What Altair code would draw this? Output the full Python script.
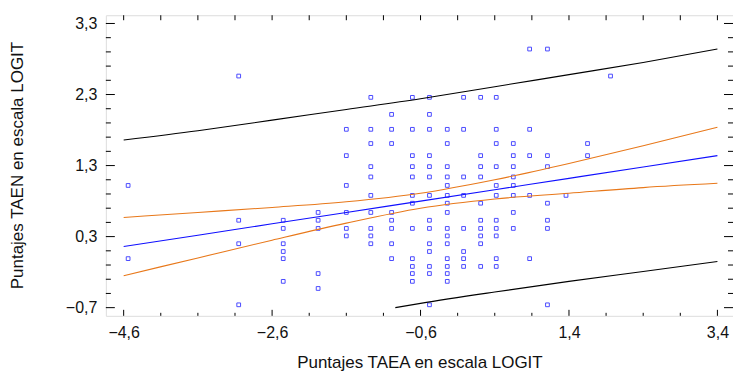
import altair as alt
import pandas as pd

# ---- scatter data (x columns and the y values found in each column) ----
col_x = [-4.54, -3.05, -2.45, -1.98, -1.60, -1.27, -0.99, -0.71, -0.48, -0.24,
         -0.02, 0.21, 0.42, 0.65, 0.87, 1.11, 1.36, 1.65, 1.96]
col_y = [
    [1.02, -0.01],
    [2.56, 0.53, 0.20, -0.66],
    [0.53, 0.415, 0.20, 0.09, -0.01, -0.33],
    [0.64, 0.53, 0.415, -0.22, -0.43],
    [1.81, 1.44, 1.02, 0.64, 0.415, 0.31],
    [2.26, 1.81, 1.61, 1.285, 1.14, 0.88, 0.64, 0.415, 0.31, 0.20],
    [2.02, 1.81, 1.61, 0.64, 0.53, 0.415, 0.20, -0.01],
    [2.26, 1.81, 1.44, 1.285, 1.14, 0.88, 0.77, 0.415, -0.01, -0.12, -0.22, -0.33],
    [2.26, 2.02, 1.81, 1.44, 1.285, 1.14, 0.88, 0.53, 0.415, 0.20, 0.09, -0.12, -0.22, -0.66],
    [1.81, 1.61, 1.285, 1.14, 1.02, 0.88, 0.77, 0.64, 0.415, 0.31, 0.20, -0.01, -0.12, -0.22, -0.33],
    [2.26, 1.81, 1.14, 0.88, 0.415, 0.09, -0.01, -0.12],
    [2.26, 1.44, 1.285, 1.14, 0.77, 0.53, 0.415, 0.31, 0.20, -0.12],
    [2.26, 1.81, 1.61, 1.285, 1.02, 0.88, 0.53, 0.415, 0.31, -0.01, -0.12],
    [1.61, 1.44, 1.285, 1.14, 1.02, 0.88, 0.64, 0.415],
    [2.94, 1.81, 1.44, 0.88, -0.01],
    [2.94, 1.44, 1.285, 0.77, 0.53, 0.415, -0.66],
    [0.88],
    [1.61, 1.44],
    [2.56],
]

# ---- fitted line, confidence and prediction limits ----
band_x = [-4.6, -3.6, -2.6, -1.6, -0.6, 0.4, 1.4, 2.4, 3.4]
fit_y = [0.16, 0.32, 0.48, 0.64, 0.80, 0.96, 1.12, 1.28, 1.44]
conf_hi = [0.57, 0.64, 0.71, 0.79, 0.91, 1.10, 1.33, 1.58, 1.84]
conf_lo = [-0.25, 0.00, 0.25, 0.49, 0.70, 0.83, 0.91, 0.99, 1.05]
pred_hi = [1.66, 1.79, 1.94, 2.09, 2.24, 2.41, 2.58, 2.75, 2.94]
predlo_x = [-0.94, -0.6, 0.4, 1.4, 2.4, 3.4]
pred_lo = [-0.70, -0.64, -0.48, -0.33, -0.19, -0.05]

# ---- axis ticks ----
x_major = [-4.6, -2.6, -0.6, 1.4, 3.4]
x_minor = [-4.1, -3.6, -3.1, -2.1, -1.6, -1.1, -0.1, 0.4, 0.9, 1.9, 2.4, 2.9]
y_major = [-0.7, 0.3, 1.3, 2.3, 3.3]
y_minor = [-0.5, -0.3, -0.1, 0.1, 0.5, 0.7, 0.9, 1.1, 1.5, 1.7, 1.9, 2.1,
           2.5, 2.7, 2.9, 3.1]

W, H = 628, 301
FONT = "Liberation Sans"
label_expr = "replace(format(datum.value, '.1f'), '.', ',')"

xs = alt.Scale(domain=[-4.84, 3.61], nice=False, zero=False)
ys = alt.Scale(domain=[-0.815, 3.416], nice=False, zero=False)

pts = pd.DataFrame(
    [(x, y) for x, ys_ in zip(col_x, col_y) for y in ys_], columns=["x", "y"]
)
bands = pd.DataFrame({"x": band_x, "fit": fit_y, "chi": conf_hi,
                      "clo": conf_lo, "phi": pred_hi})
plo = pd.DataFrame({"x": predlo_x, "plo": pred_lo})

x_axis = alt.Axis(values=x_major, labelExpr=label_expr, ticks=False, domain=False,
                  grid=False, labelFont=FONT, labelFontSize=16, labelColor="#111",
                  labelPadding=9, title="Puntajes TAEA en escala LOGIT",
                  titleFont=FONT, titleFontSize=17, titleFontWeight="normal",
                  titleColor="#111", titleY=52, titleBaseline="alphabetic")
y_axis = alt.Axis(values=y_major, labelExpr=label_expr, ticks=False, domain=False,
                  grid=False, labelFont=FONT, labelFontSize=16, labelColor="#111",
                  labelPadding=9, title="Puntajes TAEN en escala LOGIT",
                  titleFont=FONT, titleFontSize=17, titleFontWeight="normal",
                  titleColor="#111", titleX=-88, titleY=150, titleAngle=-90,
                  titleAlign="center", titleBaseline="middle")

scatter = alt.Chart(pts).mark_point(
    shape="square", filled=False, size=14, color="#0000ff", strokeWidth=1, clip=True
).encode(
    x=alt.X("x:Q", scale=xs, axis=x_axis),
    y=alt.Y("y:Q", scale=ys, axis=y_axis),
)

def band_line(field, color, data=bands):
    return alt.Chart(data).mark_line(
        color=color, strokeWidth=1.1, interpolate="monotone", clip=True
    ).encode(
        x=alt.X("x:Q", scale=xs, axis=x_axis),
        y=alt.Y(f"{field}:Q", scale=ys, axis=y_axis),
    )

lines = [
    band_line("phi", "#000000"),
    band_line("plo", "#000000", plo),
    band_line("chi", "#e8781a"),
    band_line("clo", "#e8781a"),
    band_line("fit", "#1010ff"),
]

def xticks(vals, y0, y1):
    return alt.Chart(pd.DataFrame({"v": vals})).mark_rule(
        color="black", strokeWidth=1
    ).encode(x=alt.X("v:Q", scale=xs, axis=x_axis), y=alt.value(y0), y2=alt.value(y1))

def yticks(vals, x0, x1):
    return alt.Chart(pd.DataFrame({"v": vals})).mark_rule(
        color="black", strokeWidth=1
    ).encode(y=alt.Y("v:Q", scale=ys, axis=y_axis), x=alt.value(x0), x2=alt.value(x1))

ticks = [
    xticks(x_major, H, H - 6), xticks(x_minor, H, H - 3),
    xticks(x_major + x_minor, 0, 5),
    yticks(y_major, 0, 9), yticks(y_minor, 0, 5),
    yticks(y_major, W, W - 9), yticks(y_minor, W, W - 5),
]

chart = alt.layer(scatter, *lines, *ticks).properties(
    width=W, height=H,
    autosize=alt.AutoSizeParams(type="none"),
    padding={"left": 106, "top": 15, "right": 0, "bottom": 56},
).configure_view(stroke="black", strokeWidth=1).configure(background="white")

chart.save("out.html", embed_options={"renderer": "svg", "actions": False})
